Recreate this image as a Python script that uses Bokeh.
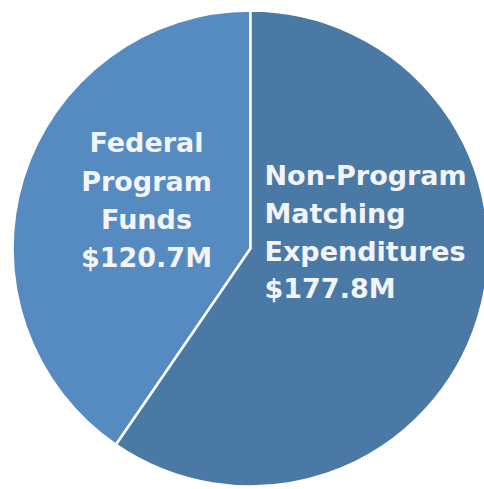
import math
from bokeh.plotting import figure
from bokeh.models import Range1d, ColumnDataSource
from bokeh.core.properties import value
from bokeh.embed import file_html
from bokeh.resources import INLINE

# ---- data ----
categories = ["Federal Program Funds", "Non-Program Matching Expenditures"]
amounts = [120.7, 177.8]
colors = ["#568bc1", "#4a79a6"]
label_lines = [["Federal", "Program", "Funds", "$120.7M"],
               ["Non-Program", "Matching", "Expenditures", "$177.8M"]]

W, H = 484, 489
p = figure(width=W, height=H, output_backend="svg", toolbar_location=None,
           x_range=Range1d(0, W), y_range=Range1d(0, H),
           min_border=0)
p.axis.visible = False
p.grid.visible = False
p.outline_line_color = None
p.background_fill_color = "white"
p.border_fill_color = "white"

# pie geometry (pixel-like units, y up)
cx, cy, r = 250, H - 248, 238
total = sum(amounts)
starts, ends = [], []
a = math.pi / 2
for v in amounts:
    starts.append(a)
    a += v / total * 2 * math.pi
    ends.append(a)

src = ColumnDataSource(dict(cat=categories, val=amounts, start=starts, end=ends, color=colors))
p.wedge(x=cx, y=cy, radius=r, start_angle="start", end_angle="end", direction="anticlock",
        fill_color="color", line_color="white", line_width=2.5, source=src)

font = value("DejaVu Sans")
# Federal label (centered)
fed_y = [142, 181, 219, 257]
for line, yy in zip(label_lines[0], fed_y):
    p.text(x=[146], y=[H - yy], text=[line], text_font=font, text_font_style="bold",
           text_font_size="27px", text_color="#f2f4f7", text_align="center",
           text_baseline="middle")
# Non-Program label (left aligned)
np_y = [175, 213, 251, 288]
for line, yy in zip(label_lines[1], np_y):
    p.text(x=[264], y=[H - yy], text=[line], text_font=font, text_font_style="bold",
           text_font_size="27px", text_color="#f2f4f7", text_align="left",
           text_baseline="middle")

open("out.html", "w").write(file_html(p, INLINE))
